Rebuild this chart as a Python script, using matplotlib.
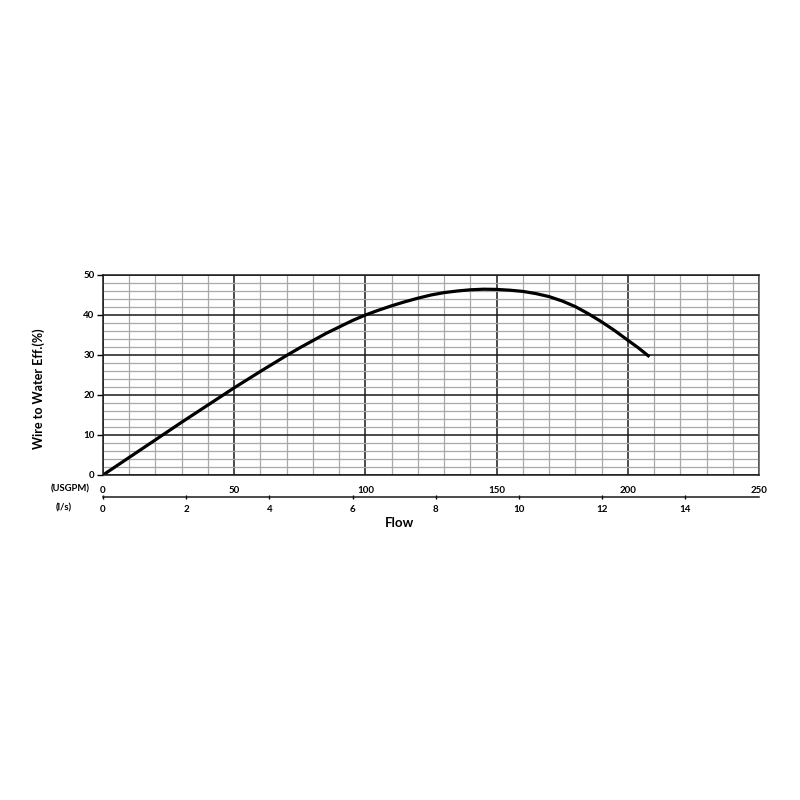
import matplotlib
matplotlib.use("Agg")
import matplotlib.pyplot as plt
import numpy as np

plt.rcParams['font.family'] = ['Lato', 'DejaVu Sans']
plt.rcParams['font.weight'] = 'bold'

# flow in USGPM and wire-to-water efficiency in %
flow_gpm = [0, 10, 20, 30, 40, 50, 60, 65, 70, 75, 80, 85, 90, 95, 100,
            105, 110, 115, 120, 125, 130, 135, 140, 145, 150, 155, 160,
            165, 170, 175, 180, 185, 190, 195, 200, 204, 207.8]
eff = [0, 4.4, 8.8, 13.2, 17.5, 21.8, 25.9, 27.9, 29.9, 31.8, 33.6, 35.4,
       37.0, 38.6, 40.0, 41.2, 42.3, 43.3, 44.2, 45.0, 45.6, 46.0, 46.3,
       46.45, 46.4, 46.2, 45.9, 45.35, 44.6, 43.5, 42.1, 40.3, 38.3, 36.1,
       33.7, 31.8, 29.8]

gpm_ticks = [0, 50, 100, 150, 200, 250]
ls_ticks = [0, 2, 4, 6, 8, 10, 12, 14]
eff_ticks = [0, 10, 20, 30, 40, 50]
GPM_PER_LS = 15.850

fig = plt.figure(figsize=(8, 8), dpi=100)
ax = fig.add_axes([0.12875, 0.40625, 0.82, 0.25])

ax.set_xlim(0, 250)
ax.set_ylim(0, 50)
ax.set_xticks(gpm_ticks)
ax.set_yticks(eff_ticks)
ax.set_xticks(np.arange(0, 251, 10), minor=True)
ax.set_yticks(np.arange(0, 51, 2), minor=True)

ax.grid(which='minor', color='#a8a8a8', linewidth=0.9)
ax.grid(which='major', color='#1a1a1a', linewidth=1.1)
ax.set_axisbelow(True)

for s in ['left', 'bottom', 'top', 'right']:
    ax.spines[s].set_color('#1a1a1a')
    ax.spines[s].set_linewidth(1.1)
ax.spines['right'].set_color('#555555')

ax.tick_params(axis='x', which='both', length=0, pad=8, labelsize=7)
ax.tick_params(axis='y', which='major', length=4, width=1, pad=2, labelsize=7)
ax.tick_params(axis='y', which='minor', length=0)

ax.plot(flow_gpm, eff, color='black', linewidth=2.3, solid_joinstyle='round')

sec = ax.secondary_xaxis(-0.11, functions=(lambda x: x / GPM_PER_LS,
                                          lambda x: x * GPM_PER_LS))
sec.set_xticks(ls_ticks)
sec.tick_params(axis='x', length=3, width=1, direction='inout', pad=4,
                labelsize=7)
sec.spines['bottom'].set_linewidth(1.1)
sec.spines['bottom'].set_color('#1a1a1a')

ax.set_ylabel('Wire to Water Eff.(%)', fontsize=9, fontweight='bold')
ax.yaxis.set_label_coords(-0.088, 0.43)
fig.text(0.5, 0.346, 'Flow', ha='center', va='center', fontsize=9.5, fontweight='bold')
fig.text(0.088, 0.389, '(USGPM)', ha='center', va='center', fontsize=6.8, fontweight='bold')
fig.text(0.08, 0.365, '(l/s)', ha='center', va='center', fontsize=6.8, fontweight='bold')

fig.savefig('out.png', dpi=100, facecolor='white')
